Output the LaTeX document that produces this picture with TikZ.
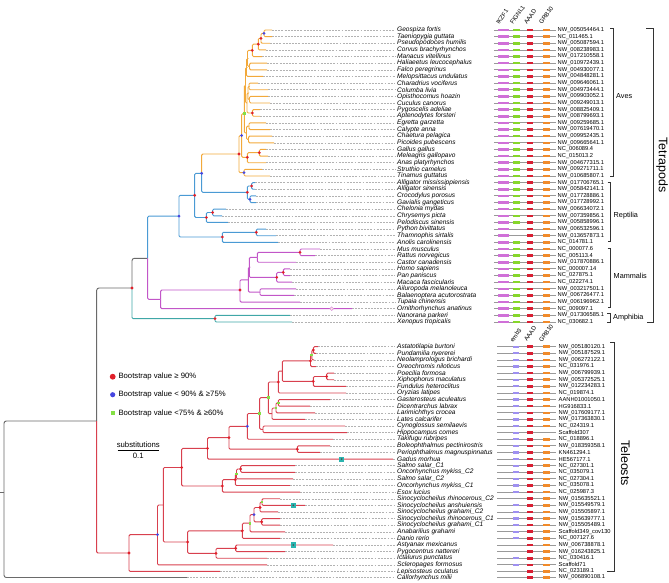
\documentclass[tikz,border=0pt]{standalone}
\usepackage{fontspec}
\setmainfont{Liberation Sans}
\usetikzlibrary{calc}
\definecolor{avescol}{HTML}{F2A93B}
\definecolor{saurcol}{HTML}{4A9AD4}
\definecolor{mamcol}{HTML}{C256C8}
\definecolor{amphcol}{HTML}{3FA7A7}
\definecolor{telcol}{HTML}{D8404E}
\definecolor{rootcol}{HTML}{6A6A6A}
\definecolor{bsred}{HTML}{E0202A}
\definecolor{bsblue}{HTML}{4545E0}
\definecolor{bsgreen}{HTML}{84E045}
\definecolor{ikzcol}{HTML}{D070D8}
\definecolor{figcol}{HTML}{86D62A}
\definecolor{aaadcol}{HTML}{D81E32}
\definecolor{grbcol}{HTML}{F08A2A}
\definecolor{embcol}{HTML}{9E90F0}
\definecolor{tealsq}{HTML}{2BB5B0}
\tikzset{
  br/.style={line width=0.8pt, rounded corners=1pt},
  aves/.style={br, draw=avescol},
  saur/.style={br, draw=saurcol},
  mam/.style={br, draw=mamcol},
  amph/.style={br, draw=amphcol},
  tel/.style={br, draw=telcol},
  rootb/.style={br, draw=rootcol, rounded corners=2pt},
  tipline/.style={draw=black!30, dash pattern=on 1.6pt off 1.1pt, line width=0.4pt},
  sp/.style={font=\fontsize{5.6}{6}\selectfont\itshape, anchor=west, inner sep=0pt},
  acc/.style={font=\fontsize{4.9}{5}\selectfont, anchor=west, inner sep=0pt},
  gene/.style={font=\fontsize{5.2}{6}\selectfont, anchor=base west, rotate=55, inner sep=0pt},
  grp/.style={font=\fontsize{6.2}{7}\selectfont, anchor=west, inner sep=0pt},
  bigl/.style={font=\fontsize{10.6}{12}\selectfont, rotate=-90, inner sep=0pt},
  legt/.style={font=\fontsize{6.6}{7}\selectfont, anchor=west, inner sep=0pt},
  gmap/.style={draw=black!40, line width=0.7pt},
  brk/.style={draw=black!80, line width=0.6pt},
}
\begin{document}
\begin{tikzpicture}[x=0.03cm,y=-0.03cm]
\useasboundingbox (0,0) rectangle (669,582);

% tetrapod leaves
\foreach \i/\tx/\sn/\ac/\fg in {
1/272/Geospiza fortis/NW\_005054464.1/1,
2/272/Taeniopygia guttata/NC\_011465.1/1,
3/270/Pseudopodoces humilis/NW\_005087594.1/1,
4/266/Corvus brachyrhynchos/NW\_008238983.1/1,
5/262/Manacus vitellinus/NW\_017210558.1/1,
6/267/Haliaeetus leucocephalus/NW\_010972439.1/1,
7/267/Falco peregrinus/NW\_004930077.1/1,
8/263/Melopsittacus undulatus/NW\_004848281.1/1,
9/258/Charadrius vociferus/NW\_009646061.1/1,
10/268/Columba livia/NW\_004973444.1/1,
11/268/Opisthocomus hoazin/NW\_009903052.1/1,
12/270/Cuculus canorus/NW\_009249013.1/1,
13/260/Pygoscelis adeliae/NW\_008825409.1/1,
14/260/Aptenodytes forsteri/NW\_008799693.1/1,
15/266/Egretta garzetta/NW\_009259685.1/1,
16/270/Calypte anna/NW\_007619470.1/1,
17/272/Chaetura pelagica/NW\_009952435.1/1,
18/274/Picoides pubescens/NW\_009665641.1/1,
19/266/Gallus gallus/NC\_006089.4/1,
20/268/Meleagris gallopavo/NC\_015013.2/1,
21/266/Anas platyrhynchos/NW\_004677315.1/1,
22/262/Struthio camelus/NW\_009271711.1/1,
23/270/Tinamus guttatus/NW\_010685807.1/1,
24/255/Alligator mississippiensis/NW\_017706765.1/1,
25/255/Alligator sinensis/NW\_005842141.1/1,
26/256/Crocodylus porosus/NW\_017728886.1/1,
27/256/Gavialis gangeticus/NW\_017728992.1/1,
28/226/Chelonia mydas/NW\_006634072.1/1,
29/222/Chrysemys picta/NW\_007359856.1/1,
30/228/Pelodiscus sinensis/NW\_005858996.1/1,
31/266/Python bivittatus/NW\_006532596.1/0,
32/276/Thamnophis sirtalis/NW\_013657873.1/0,
33/278/Anolis carolinensis/NC\_014781.1/1,
34/320/Mus musculus/NC\_000077.6/1,
35/315/Rattus norvegicus/NC\_005113.4/1,
36/296/Castor canadensis/NW\_017870886.1/1,
37/290/Homo sapiens/NC\_000007.14/1,
38/290/Pan paniscus/NC\_027875.1/1,
39/292/Macaca fascicularis/NC\_022274.1/1,
40/296/Ailuropoda melanoleuca/NW\_003217501.1/1,
41/294/Balaenoptera acutorostrata/NW\_006726477.1/1,
42/300/Tupaia chinensis/NW\_006196962.1/1,
43/352/Ornithorhynchus anatinus/NC\_009097.1/1,
44/290/Nanorana parkeri/NW\_017306585.1/1,
45/292/Xenopus tropicalis/NC\_030682.1/1}{
  \pgfmathsetmacro{\y}{30+(\i-1)*6.636}
  \coordinate (t\i) at (\tx,\y);
  \draw[tipline] (t\i) -- (395,\y);
  \node[sp] (n\i) at (397,\y) {\sn};
  \node[acc] (a\i) at (557.5,\y) {\ac};
  \draw[gmap] (494,\y) -- (556,\y);
  \fill[ikzcol] (498,\y-1.3) rectangle (508.5,\y+1.3);
  \ifnum\fg=1 \fill[figcol] (513,\y-1.3) rectangle (520,\y+1.3); \fi
  \fill[aaadcol] (527,\y-1.3) rectangle (533,\y+1.3);
  \fill[grbcol] (543,\y-1.3) rectangle (550,\y+1.3);
}

% teleost leaves
\foreach \i/\tx/\sn/\ac/\pu/\og in {
1/318/Astatotilapia burtoni/NW\_005180120.1/1/1,
2/316/Pundamilia nyererei/NW\_005187529.1/1/1,
3/314/Neolamprologus brichardi/NW\_006272122.1/1/1,
4/316/Oreochromis niloticus/NC\_031976.1/1/1,
5/334/Poecilia formosa/NW\_006799939.1/1/1,
6/334/Xiphophorus maculatus/NW\_005372525.1/1/1,
7/346/Fundulus heteroclitus/NW\_012234283.1/1/1,
8/346/Oryzias latipes/NC\_019874.1/1/1,
9/330/Gasterosteus aculeatus/AANH01001050.1/1/1,
10/310/Dicentrarchus labrax/HG916833.1/1/1,
11/315/Larimichthys crocea/NW\_017609177.1/1/1,
12/305/Lates calcarifer/NW\_017363830.1/1/1,
13/345/Cynoglossus semilaevis/NC\_024319.1/1/1,
14/347/Hippocampus comes/Scaffold307/1/0,
15/333/Takifugu rubripes/NC\_018896.1/1/1,
16/330/Boleophthalmus pectinirostris/NW\_018359358.1/1/1,
17/320/Periophthalmus magnuspinnatus/KN461294.1/1/1,
18/393/Gadus morhua/HE567177.1/1/1,
19/295/Salmo salar\_C1/NC\_027301.1/1/1,
20/295/Oncorhynchus mykiss\_C2/NC\_035079.1/1/1,
21/293/Salmo salar\_C2/NC\_027304.1/1/1,
22/290/Oncorhynchus mykiss\_C1/NC\_035078.1/1/1,
23/300/Esox lucius/NC\_025987.3/1/1,
24/280/Sinocyclocheilus rhinocerous\_C2/NW\_015635521.1/0/1,
25/305/Sinocyclocheilus anshuiensis/NW\_015549579.1/1/1,
26/278/Sinocyclocheilus grahami\_C2/NW\_015505897.1/1/1,
27/280/Sinocyclocheilus rhinocerous\_C1/NW\_015639777.1/1/1,
28/280/Sinocyclocheilus grahami\_C1/NW\_015505489.1/1/1,
29/285/Anabarilius grahami/Scaffold349\_cov130/1/1,
30/280/Danio rerio/NC\_007127.6/1/1,
31/333/Astyanax mexicanus/NW\_006738878.1/0/1,
32/285/Pygocentrus nattereri/NW\_016243825.1/0/1,
33/267/Ictalurus punctatus/NC\_030416.1/1/1,
34/267/Scleropages formosus/Scaffold71/1/1,
35/220/Lepisosteus oculatus/NC\_023189.1/0/1}{
  \pgfmathsetmacro{\y}{346.7+(\i-1)*6.61}
  \coordinate (f\i) at (\tx,\y);
  \draw[tipline] (f\i) -- (395,\y);
  \node[sp] (m\i) at (397,\y) {\sn};
  \node[acc] (b\i) at (558.5,\y) {\ac};
  \draw[gmap] (497,\y) -- (556,\y);
  \ifnum\pu=1 \fill[embcol] (513,\y-1.1) rectangle (518.5,\y+1.1); \fi
  \fill[aaadcol] (527,\y-1.3) rectangle (533,\y+1.3);
  \ifnum\og=1 \fill[grbcol] (543,\y-1.3) rectangle (550,\y+1.3); \fi
}
\coordinate (f36) at (187,577.5);
\draw[tipline] (f36) -- (395,577.5);
\node[sp] (m36) at (397,577.5) {Callorhynchus milii};
\node[acc] (b36) at (558.5,577.5) {NW\_006890108.1};
\draw[gmap] (497,577.5) -- (556,577.5);
\fill[aaadcol] (527,576.2) rectangle (533,578.8);
\fill[grbcol] (543,576.2) rectangle (550,578.8);

% gene headers
\node[gene] (hIKZF) at (499,25) {IKZF1};
\node[gene] (hFIG) at (513,25) {FIGNL1};
\node[gene] (hAAAD) at (527,25) {AAAD};
\node[gene] (hGRB) at (542,25) {GRB10};
\node[gene] (hEMB) at (513,343) {emb3};
\node[gene] (hAAAD2) at (527,342) {AAAD};
\node[gene] (hGRB2) at (542,343) {GRB10};

% internal nodes
\coordinate (R0) at (0,492);
\coordinate (R) at (4,492);
\coordinate (O) at (96.7,421);
\coordinate (T) at (132,288);
\coordinate (A) at (147.7,258.3);
\coordinate (S) at (179,216.2);
\coordinate (Ar) at (194.7,195.3);
\coordinate (Arch) at (201.7,173.3);
\coordinate (Av) at (239,154);
\coordinate (Neog) at (241.7,135.5);
\coordinate (Neoav) at (244.3,113.7);
\coordinate (NA) at (245.5,85.3);
\coordinate (U2) at (246.5,67.5);
\coordinate (U1) at (247.5,58.5);
\coordinate (Pass) at (252.3,50.4);
\coordinate (P3) at (258.3,44.2);
\coordinate (P2) at (261,38.3);
\coordinate (P1) at (264,33.3);
\coordinate (HF) at (249.5,66.5);
\coordinate (U4) at (247,103);
\coordinate (U3) at (248,93);
\coordinate (CC) at (249,86.4);
\coordinate (OC) at (249.5,99.7);
\coordinate (Peng) at (252.3,113);
\coordinate (NB) at (246.5,132.9);
\coordinate (EC) at (249,126.2);
\coordinate (CP) at (248.5,139.5);
\coordinate (Gal) at (247.3,157.3);
\coordinate (GM) at (259.3,152.7);
\coordinate (Pal) at (244,172.7);
\coordinate (Cr) at (247.3,192.3);
\coordinate (Al) at (251.7,186);
\coordinate (CG) at (250,199.3);
\coordinate (Tes) at (206.3,217.5);
\coordinate (Tu) at (212.7,212.5);
\coordinate (Sq) at (222.3,237);
\coordinate (Sn) at (256.3,232.3);
\coordinate (M) at (160.7,299.3);
\coordinate (Eut) at (240,290);
\coordinate (X) at (248.3,279.8);
\coordinate (EG) at (249.3,267.4);
\coordinate (Rod) at (257.3,257.4);
\coordinate (MR) at (300,252.4);
\coordinate (Prim) at (276.7,277.4);
\coordinate (HP) at (283.3,272.4);
\coordinate (Laur) at (260,292.1);
\coordinate (Amph) at (215,318.7);
\coordinate (TR) at (129,553);
\coordinate (Tel) at (157.5,534.7);
\coordinate (Y) at (163.3,505);
\coordinate (EuT) at (181.7,467.5);
\coordinate (Nt) at (207.5,448.4);
\coordinate (Pc) at (229,437.7);
\coordinate (Mud) at (297.3,449.2);
\coordinate (Bl) at (247.3,426.3);
\coordinate (Gr1) at (259.7,413.5);
\coordinate (CH) at (263,429.3);
\coordinate (G2) at (268.3,397.7);
\coordinate (Ov2) at (278.3,382);
\coordinate (Ov1) at (282.3,371.1);
\coordinate (Cic) at (310.5,360.8);
\coordinate (Cic2) at (311.8,355);
\coordinate (Cic1) at (313.3,350);
\coordinate (Cyd) at (313.3,381.4);
\coordinate (PX) at (326.7,376.5);
\coordinate (N413) at (272,413.7);
\coordinate (Gst) at (276,408);
\coordinate (GD) at (278.3,402.9);
\coordinate (Pr) at (222.3,486);
\coordinate (Sal) at (235.3,479.7);
\coordinate (SG) at (236.5,474);
\coordinate (SO1) at (240.7,469);
\coordinate (Ot) at (187.7,542);
\coordinate (Cyp) at (242.3,530.8);
\coordinate (An) at (250,523.2);
\coordinate (Sb) at (254,514.6);
\coordinate (Su) at (260,507.5);
\coordinate (Sg) at (262,502);
\coordinate (Sl) at (261.7,521.8);
\coordinate (CS) at (216,553.3);
\coordinate (Ch) at (235.7,548.3);

% branches
\draw[rootb] (R0) -- (R);
\foreach \p/\c in {R/O, R/f36, O/T, T/A} \draw[rootb] (\p) |- (\c);
\foreach \p/\c in {Arch/Av, Av/Neog, Av/Pal, Neog/Neoav, Neog/Gal, Neoav/NA, Neoav/NB,
  NA/U2, NA/U4, U2/U1, U2/t8, U1/Pass, U1/HF, Pass/P3, Pass/t5, P3/P2, P3/t4, P2/P1, P2/t3,
  P1/t1, P1/t2, HF/t6, HF/t7, U4/U3, U4/Peng, U3/CC, U3/OC, CC/t9, CC/t10, OC/t11, OC/t12,
  Peng/t13, Peng/t14, NB/EC, NB/CP, EC/t15, EC/t16, CP/t17, CP/t18, Gal/GM, Gal/t21,
  GM/t19, GM/t20, Pal/t22, Pal/t23}
  \draw[aves] (\p) |- (\c);
\foreach \p/\c in {A/S, S/Ar, S/Sq, Ar/Arch, Ar/Tes, Arch/Cr, Cr/Al, Cr/CG, Al/t24, Al/t25,
  CG/t26, CG/t27, Tes/Tu, Tes/t30, Tu/t28, Tu/t29, Sq/Sn, Sq/t33, Sn/t31, Sn/t32}
  \draw[saur] (\p) |- (\c);
\foreach \p/\c in {A/M, M/Eut, M/t43, Eut/X, Eut/t42, X/EG, X/Laur, EG/Rod, EG/Prim, Rod/MR,
  Rod/t36, MR/t34, MR/t35, Prim/HP, Prim/t39, HP/t37, HP/t38, Laur/t40, Laur/t41}
  \draw[mam] (\p) |- (\c);
\foreach \p/\c in {T/Amph, Amph/t44, Amph/t45} \draw[amph] (\p) |- (\c);
\foreach \p/\c in {O/TR, TR/Tel, TR/f35, Tel/Y, Tel/f34, Y/EuT, Y/Ot, EuT/Nt, EuT/Pr, Nt/Pc,
  Nt/f18, Pc/Bl, Pc/Mud, Mud/f16, Mud/f17, Bl/Gr1, Bl/f15, Gr1/G2, Gr1/CH, CH/f13, CH/f14,
  G2/Ov2, G2/N413, Ov2/Ov1, Ov2/f8, Ov1/Cic, Ov1/Cyd, Cic/Cic2, Cic/f4, Cic2/Cic1, Cic2/f3,
  Cic1/f1, Cic1/f2, Cyd/PX, Cyd/f7, PX/f5, PX/f6, N413/Gst, N413/f12, Gst/GD, Gst/f11,
  GD/f9, GD/f10, Pr/Sal, Pr/f23, Sal/SG, Sal/f22, SG/SO1, SG/f21, SO1/f19, SO1/f20,
  Ot/Cyp, Ot/CS, Cyp/An, Cyp/f30, An/Sb, An/f29, Sb/Su, Sb/Sl, Su/Sg, Su/f26, Sg/f24,
  Sg/f25, Sl/f27, Sl/f28, CS/Ch, CS/f33, Ch/f31, Ch/f32}
  \draw[tel] (\p) |- (\c);

% bootstrap marks
\foreach \n in {T, Ar, Av, Pass, P3, P2, Peng, Gal, GM, Cr, Al, Tes, Tu, Sq, Sn, MR, HP, Prim,
  Eut, Amph, TR, EuT, Nt, Pc, Mud, Ov2, Cic, Cic1, Cyd, PX, Pr, Sal, SO1, Ot, Cyp, Su, Sl, CS, Ch}
  \fill[bsred] (\n) circle (1.3pt);
\foreach \n in {P1, Neog, Pal, Arch, S, CG, Tel, Bl, Sb}
  \fill[bsblue] (\n) circle (1.3pt);
\foreach \n in {Neoav, Gr1, G2, Gst, GD, Cic2, SG, An, Sg}
  \fill[bsgreen] (\n) ++(-1.2pt,-1.2pt) rectangle ++(2.4pt,2.4pt);
\coordinate (ornc) at (331.7,308.7);
\filldraw[draw=mamcol!70, fill=pink!40, line width=0.4pt] (ornc) circle (1.6pt);
\foreach \s in {(341.7,459.1), (293.3,505.3), (293.3,545)}{
  \fill[tealsq] \s ++(-2.2pt,-2.2pt) rectangle ++(4.4pt,4.4pt);
  \fill[black!70] \s circle (0.8pt);
}

% legend
\fill[bsred] (112.7,376.7) circle (2.5pt);
\node[legt] (l1) at (118.3,376.7) {Bootstrap value ≥ 90\%};
\fill[bsblue] (112.7,394.7) circle (2.2pt);
\node[legt] (l2) at (118.3,394.7) {Bootstrap value < 90\% \& ≥75\%};
\fill[bsgreen] (110.7,411) rectangle (114.7,415);
\node[legt] (l3) at (118.3,413) {Bootstrap value <75\% \& ≥60\%};
\node[legt, anchor=center] (subs) at (138.3,444.5) {substitutions};
\draw[line width=0.6pt] (117.7,450.5) -- (158.7,450.5);
\node[legt, anchor=center] (sc) at (138.3,456) {0.1};

% groups
\draw[brk] (610,28.5) -- (613.3,28.5) -- (613.3,176) -- (610,176);
\node[grp] (gAves) at (616,96) {Aves};
\draw[brk] (607.7,182) -- (610.7,182) -- (610.7,241.5) -- (607.7,241.5);
\node[grp] (gRep) at (613.5,216) {Reptilia};
\draw[brk] (607.7,248) -- (610.3,248) -- (610.3,307.5) -- (607.7,307.5);
\node[grp] (gMam) at (613.5,276) {Mammalis};
\draw[brk] (607.3,313) -- (610.3,313) -- (610.3,322.3) -- (607.3,322.3);
\node[grp] (gAmp) at (613,317.5) {Amphibia};
\draw[brk] (646,28.5) -- (653,28.5) -- (653,322.5) -- (646.5,322.5);
\node[bigl] (gTet) at (662,165) {Tetrapods};
\draw[brk] (610,342.5) -- (614.3,342.5) -- (614.3,571.7) -- (607,571.7);
\node[bigl] (gTel) at (625.5,463) {Teleosts};
\end{tikzpicture}
\end{document}
